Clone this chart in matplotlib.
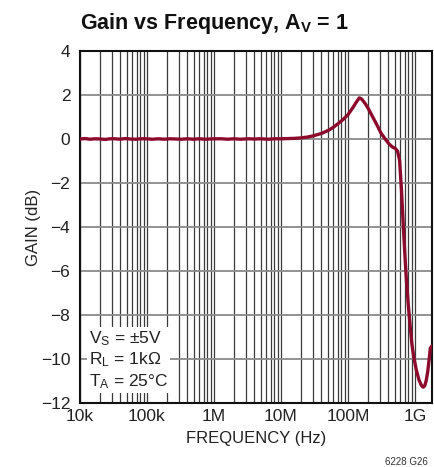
import matplotlib
matplotlib.use('Agg')
import matplotlib.pyplot as plt
import numpy as np

# gain curve (Hz, dB)
freq = [1.0e4, 1.2e4, 1.4e4, 1.7e4, 2.0e4, 2.4e4, 2.8e4, 3.3e4, 4.0e4, 4.7e4,
        5.6e4, 6.8e4, 8.0e4, 1.0e5, 1.2e5, 1.5e5, 1.8e5, 2.2e5, 2.7e5, 3.3e5,
        4.0e5, 5.0e5, 6.0e5, 7.5e5, 1.0e6, 1.3e6, 1.6e6, 2.0e6, 2.5e6, 3.2e6,
        4.0e6, 5.0e6, 6.5e6, 8.0e6, 1.0e7, 1.3e7, 1.6e7, 2.0e7, 2.5e7, 3.0e7,
        4.0e7, 5.0e7, 6.0e7, 7.0e7, 8.0e7, 1.0e8, 1.2e8, 1.35e8, 1.48e8, 1.6e8,
        1.8e8, 2.0e8, 2.3e8, 2.7e8, 3.1e8, 3.6e8, 4.1e8, 4.6e8, 5.1e8, 5.5e8,
        5.9e8, 6.3e8, 6.7e8, 7.1e8, 7.5e8, 8.0e8, 8.5e8, 9.0e8, 9.6e8, 1.05e9,
        1.15e9, 1.25e9, 1.33e9, 1.4e9, 1.47e9, 1.55e9, 1.62e9, 1.7e9, 1.8e9]
gain = [0.00, 0.02, -0.01, 0.01, 0.00, -0.02, 0.01, 0.01, -0.01, 0.02,
        0.00, -0.01, 0.01, 0.01, -0.01, 0.01, -0.01, 0.01, 0.00, -0.01,
        0.01, -0.01, 0.01, -0.01, 0.01, 0.01, -0.01, 0.01, -0.01, 0.01,
        0.00, 0.01, -0.01, 0.01, 0.01, 0.02, 0.03, 0.05, 0.09, 0.14,
        0.25, 0.38, 0.52, 0.68, 0.82, 1.10, 1.45, 1.70, 1.87, 1.82,
        1.62, 1.40, 1.05, 0.65, 0.28, 0.00, -0.22, -0.36, -0.43, -0.55,
        -0.95, -2.3, -3.9, -5.3, -6.5, -7.6, -8.5, -9.3, -9.9, -10.5,
        -10.95, -11.2, -11.28, -11.22, -11.0, -10.6, -10.1, -9.5, -9.4]

yticks = [4, 2, 0, -2, -4, -6, -8, -10, -12]
xticks = [1e4, 1e5, 1e6, 1e7, 1e8, 1e9]
xtick_labels = ['10k', '100k', '1M', '10M', '100M', '1G']

FONT = 'Liberation Sans'
plt.rcParams['font.family'] = [FONT, 'DejaVu Sans']
plt.rcParams['mathtext.fontset'] = 'custom'
plt.rcParams['mathtext.rm'] = FONT
plt.rcParams['mathtext.it'] = FONT
plt.rcParams['mathtext.bf'] = FONT + ':bold'

fig = plt.figure(figsize=(4.35, 4.67), dpi=100)
ax = fig.add_axes([80/435, 64/467, 352/435, 352/467])

ax.plot(freq, gain, color='#8c0a2c', lw=2.4, zorder=3, solid_capstyle='round')

ax.set_xscale('log')
ax.set_xlim(1e4, 1.8e9)
ax.set_ylim(-12, 4)
ax.set_xticks(xticks)
ax.set_xticklabels(xtick_labels)
ax.set_yticks(yticks)
ax.set_yticklabels([str(t).replace('-', '\u2212') for t in yticks])
ax.xaxis.set_minor_locator(matplotlib.ticker.LogLocator(base=10, subs=np.arange(2, 10)))
ax.xaxis.set_minor_formatter(matplotlib.ticker.NullFormatter())
ax.tick_params(axis='both', which='both', length=0, labelsize=12.5, colors='#222222')
ax.tick_params(axis='x', pad=4)
ax.tick_params(axis='y', pad=7)

ax.grid(True, axis='x', which='both', color='#3a3a3a', lw=0.9)
ax.grid(True, axis='y', which='major', color='#8a8a8a', lw=1.3)
for s in ax.spines.values():
    s.set_linewidth(1.5)
    s.set_color('#111111')

ax.set_xlabel('FREQUENCY (Hz)', fontsize=12, color='#222222', labelpad=5)
ax.set_ylabel('GAIN (dB)', fontsize=12, color='#222222', labelpad=0)

fig.text(80/435, 1 - 24/467, r'Gain vs Frequency, A$_\mathbf{V}$ = 1', fontsize=15.5,
         fontweight='bold', va='center', ha='left', color='#111111')

ax.text(0.025, 0.035, 'V$_\\mathrm{S}$ = \u00b15V\nR$_\\mathrm{L}$ = 1k\u03a9\nT$_\\mathrm{A}$ = 25\u00b0C',
        transform=ax.transAxes, fontsize=12.5, color='#222222', linespacing=1.2,
        va='bottom', ha='left', zorder=4,
        bbox=dict(facecolor='white', edgecolor='none', pad=1.5))

fig.text(428/435, 1 - 462/467, '6228 G26', fontsize=7, ha='right', va='center', color='#333333')

fig.savefig('out.png', dpi=100)
